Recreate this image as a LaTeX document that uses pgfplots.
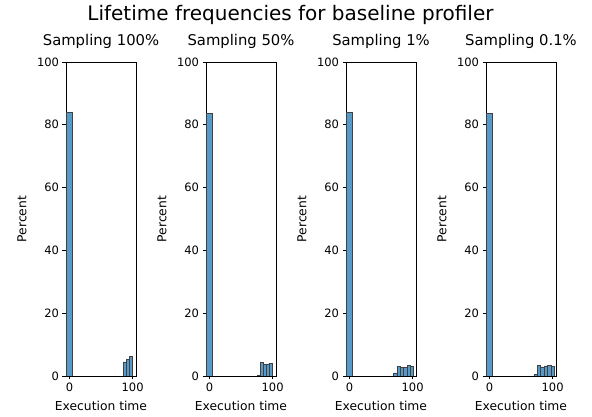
\documentclass[border=0pt]{standalone}
\usepackage{fontspec}
\setmainfont{DejaVu Sans}
\usepackage{pgfplots}
\pgfplotsset{compat=1.18}
\definecolor{barblue}{RGB}{31,119,180}
\pgfplotsset{
  panel/.style={
    at={(#1,41pt)}, anchor=south west,
    scale only axis, width=70pt, height=314pt,
    xmin=-5.4, xmax=105.3, ymin=0, ymax=100,
    xtick={0,100}, ytick={0,20,40,60,80,100},
    tick align=outside, tick pos=left,
    major tick length=3.5pt,
    axis line style={line width=0.6pt},
    every tick/.style={line width=0.6pt, black},
    /pgf/number format/assume math mode=true,
    tick label style={font=\fontsize{11.5}{13}\selectfont},
    label style={font=\fontsize{12.3}{14}\selectfont},
    title style={font=\fontsize{14.8}{17}\selectfont, at={(axis description cs:0.5,1)}, anchor=south, yshift=4pt},
    xlabel={Execution time}, ylabel={Percent},
    xlabel style={at={(axis description cs:0.5,-0.0955)}, anchor=center},
    ylabel style={at={(axis description cs:-0.63,0.5)}, anchor=center, rotate=0},
  },
  hbar/.style={ybar interval, fill=barblue, fill opacity=0.75, draw=black!75, line width=0.5pt},
}
\begin{document}
\begin{tikzpicture}
\useasboundingbox (0,0) rectangle (592pt,417pt);
\node[font=\fontsize{20}{24}\selectfont] at (290.5pt,402pt) {Lifetime frequencies for baseline profiler};
\begin{axis}[panel=66pt, title={Sampling 100\%}]
\addplot[hbar] coordinates {(-4.3,84.0) (4.3,84.0)};
\addplot[hbar] coordinates {(85.4,4.5) (90.3,5.2) (95.2,6.3) (100,6.3)};
\end{axis}
\begin{axis}[panel=206pt, title={Sampling 50\%}]
\addplot[hbar] coordinates {(-4.3,83.8) (4.3,83.8)};
\addplot[hbar] coordinates {(75.7,0.2) (80.8,4.4) (85.4,3.6) (90.3,3.9) (95.0,4.1) (100,4.1)};
\end{axis}
\begin{axis}[panel=346pt, title={Sampling 1\%}]
\addplot[hbar] coordinates {(-4.3,84.1) (4.3,84.1)};
\addplot[hbar] coordinates {(70.0,1.0) (75.3,3.0) (80.5,2.8) (85.8,2.8) (91.1,3.3) (96.3,3.0) (101.6,3.0)};
\end{axis}
\begin{axis}[panel=486pt, title={Sampling 0.1\%}]
\addplot[hbar] coordinates {(-4.3,83.6) (4.3,83.6)};
\addplot[hbar] coordinates {(70.3,0.4) (75.7,3.4) (81.1,2.9) (86.5,3.2) (91.9,3.4) (97.3,3.1) (102.7,3.1)};
\end{axis}
\end{tikzpicture}
\end{document}
